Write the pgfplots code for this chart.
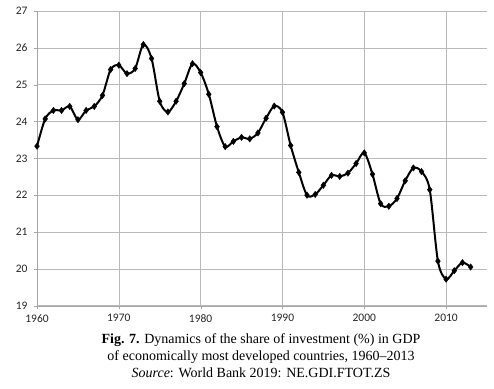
\documentclass[border=0pt]{standalone}
\usepackage{fontspec}
\setmainfont{Liberation Serif}
\newfontfamily\calibri{Carlito}
\usepackage{pgfplots}
\pgfplotsset{compat=1.18}
\begin{document}
\begin{tikzpicture}
\path[use as bounding box] (-37pt,-82.3pt) rectangle (457pt,305.7pt);
\begin{axis}[
  at={(0,0)}, anchor=south west,
  scale only axis, width=450pt, height=294.7pt,
  xmin=1960, xmax=2015, ymin=19, ymax=27,
  xtick={1960,1970,...,2010}, ytick={19,20,...,27},
  axis lines=left, axis line style={draw=gray!70, -},
  grid=major, grid style={draw=gray!55, line width=0.6pt},
  tick style={draw=gray!70}, tick align=outside, major tick length=3pt,
  ticklabel style={font=\calibri\fontsize{11.5}{13}\selectfont, text=black!85},
  /pgf/number format/assume math mode=true,
  /pgf/number format/1000 sep={},
  xticklabel style={yshift=-2pt},
  yticklabel style={xshift=-3pt},
  clip=false,
]
\addplot[black, line width=2pt, smooth, tension=0.5, mark=diamond*, mark size=3.2pt, mark options={fill=black, line width=0.4pt}] coordinates {
(1960,23.33)(1961,24.07)(1962,24.30)(1963,24.30)(1964,24.41)(1965,24.05)
(1966,24.30)(1967,24.41)(1968,24.71)(1969,25.41)(1970,25.53)(1971,25.30)
(1972,25.44)(1973,26.09)(1974,25.71)(1975,24.55)(1976,24.26)(1977,24.55)
(1978,25.03)(1979,25.57)(1980,25.33)(1981,24.74)(1982,23.86)(1983,23.32)
(1984,23.46)(1985,23.57)(1986,23.53)(1987,23.69)(1988,24.09)(1989,24.42)
(1990,24.25)(1991,23.35)(1992,22.62)(1993,22.00)(1994,22.02)(1995,22.27)
(1996,22.54)(1997,22.51)(1998,22.60)(1999,22.86)(2000,23.15)(2001,22.57)
(2002,21.77)(2003,21.70)(2004,21.91)(2005,22.39)(2006,22.74)(2007,22.64)
(2008,22.15)(2009,20.21)(2010,19.72)(2011,19.95)(2012,20.17)(2013,20.05)
};
\end{axis}
\node[anchor=north, align=center, font=\fontsize{14}{16.7}\selectfont, inner sep=0pt] at (224pt,-28pt)
{\textbf{Fig. 7.} Dynamics of the share of investment (\%) in GDP\\
of economically most developed countries, 1960--2013\\
\textit{Source}: World Bank 2019: NE.GDI.FTOT.ZS};
\end{tikzpicture}
\end{document}
